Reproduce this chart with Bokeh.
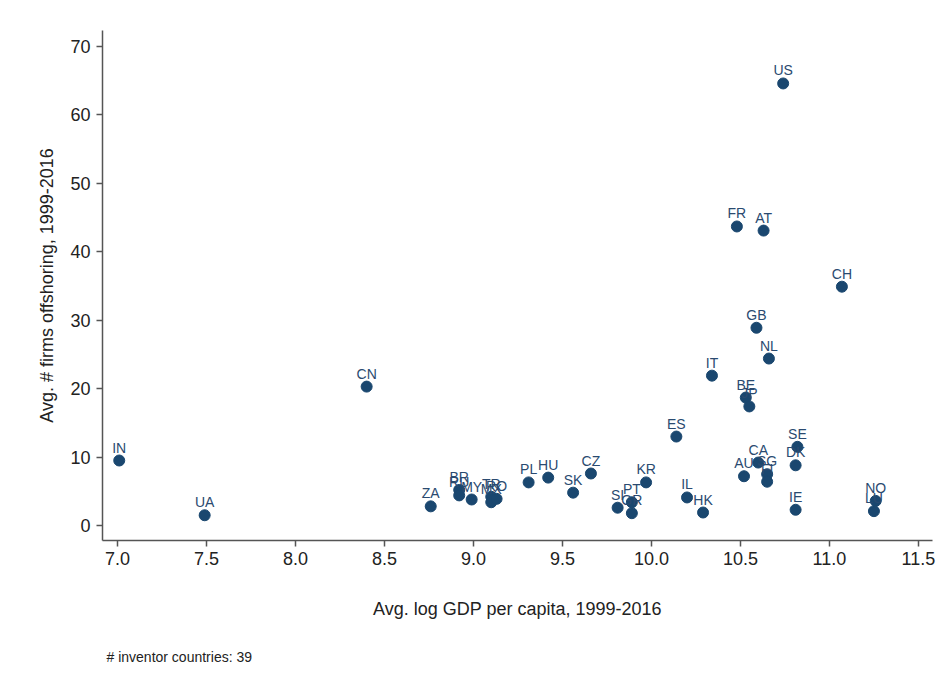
from bokeh.plotting import figure
from bokeh.models import ColumnDataSource, Range1d, Title, FixedTicker
from bokeh.core.properties import value
from bokeh.embed import file_html
from bokeh.resources import INLINE

# Country codes, average log GDP per capita and average number of offshoring firms
countries = ["IN", "UA", "CN", "ZA", "BR", "RU", "MY", "TR", "MX", "RO",
             "PL", "HU", "SK", "CZ", "SI", "PT", "GR", "KR", "IL", "HK",
             "ES", "IT", "FR", "AT", "US", "CH", "GB", "NL", "BE", "JP",
             "CA", "AU", "SG", "FI", "SE", "DK", "IE", "NO", "LU"]
log_gdp = [7.01, 7.49, 8.40, 8.76, 8.92, 8.92, 8.99, 9.10, 9.10, 9.13,
           9.31, 9.42, 9.56, 9.66, 9.81, 9.89, 9.89, 9.97, 10.20, 10.29,
           10.14, 10.34, 10.48, 10.63, 10.74, 11.07, 10.59, 10.66, 10.53, 10.55,
           10.60, 10.52, 10.65, 10.65, 10.82, 10.81, 10.81, 11.26, 11.25]
firms = [9.5, 1.5, 20.3, 2.8, 5.2, 4.4, 3.8, 4.2, 3.4, 3.9,
         6.3, 7.0, 4.8, 7.6, 2.6, 3.4, 1.8, 6.3, 4.1, 1.9,
         13.0, 21.9, 43.7, 43.1, 64.6, 34.9, 28.9, 24.4, 18.7, 17.4,
         9.2, 7.2, 7.5, 6.4, 11.5, 8.8, 2.3, 3.6, 2.1]

x_ticks = [7.0, 7.5, 8.0, 8.5, 9.0, 9.5, 10.0, 10.5, 11.0, 11.5]
y_ticks = [0, 10, 20, 30, 40, 50, 60, 70]

FONT = "Liberation Sans"
NAVY = "#1a476f"
LABEL = "#2a4a70"
AXIS = "#555555"

src = ColumnDataSource(dict(x=log_gdp, y=firms, code=countries))

p = figure(width=948, height=692, output_backend="svg", toolbar_location=None,
           x_range=Range1d(6.916, 11.579), y_range=Range1d(-2.19, 72.34),
           min_border_left=102, min_border_right=16, min_border_top=30,
           min_border_bottom=152)
p.background_fill_color = "white"
p.border_fill_color = "white"
p.outline_line_color = None
p.grid.visible = False

p.scatter("x", "y", source=src, size=11, color=NAVY, line_color=NAVY)
p.text("x", "y", text="code", source=src, text_font=value(FONT),
       text_font_size="14px", text_color=LABEL, text_align="center",
       text_baseline="bottom", y_offset=-5)

for ax in (p.xaxis[0], p.yaxis[0]):
    ax.axis_line_color = AXIS
    ax.axis_line_width = 1.5
    ax.major_tick_line_color = AXIS
    ax.major_tick_line_width = 1.5
    ax.major_tick_out = 6
    ax.major_tick_in = 0
    ax.minor_tick_line_color = None
    ax.major_label_text_font = FONT
    ax.major_label_text_font_size = "18px"
    ax.major_label_text_color = "#222222"
    ax.axis_label_text_font = FONT
    ax.axis_label_text_font_size = "18px"
    ax.axis_label_text_font_style = "normal"
    ax.axis_label_text_color = "#222222"

p.xaxis.ticker = FixedTicker(ticks=x_ticks)
p.xaxis.major_label_overrides = {t: f"{t:.1f}" for t in x_ticks}
p.xaxis.axis_label = "Avg. log GDP per capita, 1999-2016"
p.xaxis.axis_label_standoff = 31
p.xaxis.major_label_standoff = 5

p.yaxis.ticker = FixedTicker(ticks=y_ticks)
p.yaxis.axis_label = "Avg. # firms offshoring, 1999-2016"
p.yaxis.axis_label_standoff = 10
p.yaxis.major_label_standoff = 6
p.yaxis.major_label_orientation = "horizontal"

# Footnote below the x-axis title
note = Title(text="# inventor countries: 39", align="left", offset=4,
             text_font=FONT, text_font_size="14px", text_font_style="normal",
             text_color="#222222", standoff=50)
p.add_layout(note, "below")

open("out.html", "w").write(file_html(p, INLINE))
